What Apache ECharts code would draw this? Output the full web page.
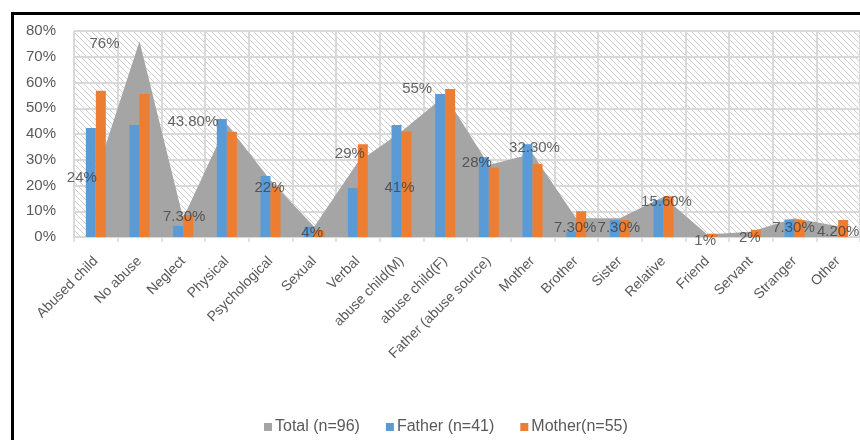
<!DOCTYPE html>
<html>
<head>
<meta charset="utf-8">
<script src="https://cdn.jsdelivr.net/npm/echarts@6/dist/echarts.min.js"></script>
<style>
html,body{margin:0;padding:0;background:#fff;}
#c{width:860px;height:440px;}
</style>
</head>
<body>
<div id="c"></div>
<script>
const categories = ['Abused child','No abuse','Neglect','Physical','Psychological','Sexual','Verbal','abuse child(M)','abuse child(F)','Father (abuse source)','Mother','Brother','Sister','Relative','Friend','Servant','Stranger','Other'];
const totalValues = [24, 76, 7.3, 43.8, 22, 4, 29, 41, 55, 28, 32.3, 7.3, 7.3, 15.6, 1, 2, 7.3, 4.2];
const totalLabels = ['24%','76%','7.30%','43.80%','22%','4%','29%','41%','55%','28%','32.30%','7.30%','7.30%','15.60%','1%','2%','7.30%','4.20%'];
const fatherValues = [42.3, 43.5, 4.3, 45.8, 23.7, 4, 19, 43.5, 55.5, 31, 36, 2, 6.6, 14.2, 0, 0, 6.8, 0];
const motherValues = [56.8, 55.5, 8.5, 40.9, 19.5, 2.7, 36, 41, 57.5, 27, 28.3, 10, 6.6, 15.8, 1.3, 2.8, 6.6, 6.6];
const yTicks = [0, 10, 20, 30, 40, 50, 60, 70, 80];

// label nudges (style only) for the Total series data labels
const labelNudge = [[-14,3],[-35,3],[1,-1],[-34,-2],[-1,8],[-2,6],[-8,-8],[-2,56],[-28,-7],[-12,-2],[2,-6],[-1,10],[-1,10],[3,5],[-2,6],[-1,6],[-1,10],[0,6]];

// hatch pattern
const pc = document.createElement('canvas');
pc.width = 6; pc.height = 6;
const g = pc.getContext('2d');
g.fillStyle = '#ffffff'; g.fillRect(0,0,6,6);
g.strokeStyle = '#cfcfcf'; g.lineWidth = 1;
g.beginPath();
g.moveTo(0,0); g.lineTo(6,6);
g.moveTo(-3,3); g.lineTo(3,9);
g.moveTo(3,-3); g.lineTo(9,3);
g.stroke();

const font = "'Liberation Sans', Arial, sans-serif";
const chart = echarts.init(document.getElementById('c'), null, {renderer:'canvas'});
chart.setOption({
  animation: false,
  textStyle: {fontFamily: font},
  graphic: [{
    type: 'rect', z: 100, silent: true,
    shape: {x: 12.5, y: 13.5, width: 900, height: 500},
    style: {fill: 'none', stroke: '#000', lineWidth: 3}
  }],
  legend: {
    top: 419, left: 264, padding: 0,
    itemWidth: 8, itemHeight: 8, itemGap: 26,
    icon: 'rect',
    textStyle: {color: '#595959', fontSize: 16, fontFamily: font, padding: [0,0,0,-2]},
    data: ['Total (n=96)','Father (n=41)','Mother(n=55)']
  },
  grid: {
    left: 74, right: -1.5, top: 31, bottom: 203,
    show: true, borderWidth: 0,
    backgroundColor: {image: pc, repeat: 'repeat'}
  },
  xAxis: {
    type: 'category', data: categories, boundaryGap: true,
    axisLine: {lineStyle: {color: '#d9d9d9', width: 1.5}},
    axisTick: {show: true, length: 5, lineStyle: {color: '#d9d9d9', width: 1.5}},
    splitLine: {show: true, lineStyle: {color: '#d9d9d9', width: 2}},
    axisLabel: {rotate: 45, color: '#595959', fontSize: 14, fontFamily: font, margin: 22, interval: 0}
  },
  yAxis: {
    type: 'value', min: 0, max: 80, interval: 10,
    axisLine: {show: false}, axisTick: {show: false},
    splitLine: {lineStyle: {color: '#d9d9d9', width: 2}},
    axisLabel: {color: '#595959', fontSize: 15, fontFamily: font, margin: 18, formatter: '{value}%'}
  },
  series: [
    {
      name: 'Total (n=96)', type: 'line', z: 1,
      data: totalValues,
      color: '#a5a5a5',
      symbol: 'none',
      itemStyle: {color: '#a5a5a5'},
      lineStyle: {width: 0, color: '#a5a5a5'},
      areaStyle: {color: '#a5a5a5', opacity: 1}
    },
    {
      name: 'Father (n=41)', type: 'bar', data: fatherValues,
      color: '#5b9bd5', barWidth: 10, barGap: '0%', z: 2
    },
    {
      name: 'Mother(n=55)', type: 'bar', data: motherValues,
      color: '#ed7d31', barWidth: 10, barGap: '0%', z: 2
    },
    {
      name: 'TotalLabels', type: 'scatter', z: 5, silent: true,
      data: totalValues,
      symbolSize: 1,
      itemStyle: {color: 'rgba(0,0,0,0)'},
      label: {
        show: true, position: 'inside', color: '#404040', fontSize: 15, fontFamily: font,
        formatter: p => totalLabels[p.dataIndex]
      },
      labelLayout: p => ({dx: labelNudge[p.dataIndex][0], dy: labelNudge[p.dataIndex][1], hideOverlap: false})
    }
  ]
});
</script>
</body>
</html>
